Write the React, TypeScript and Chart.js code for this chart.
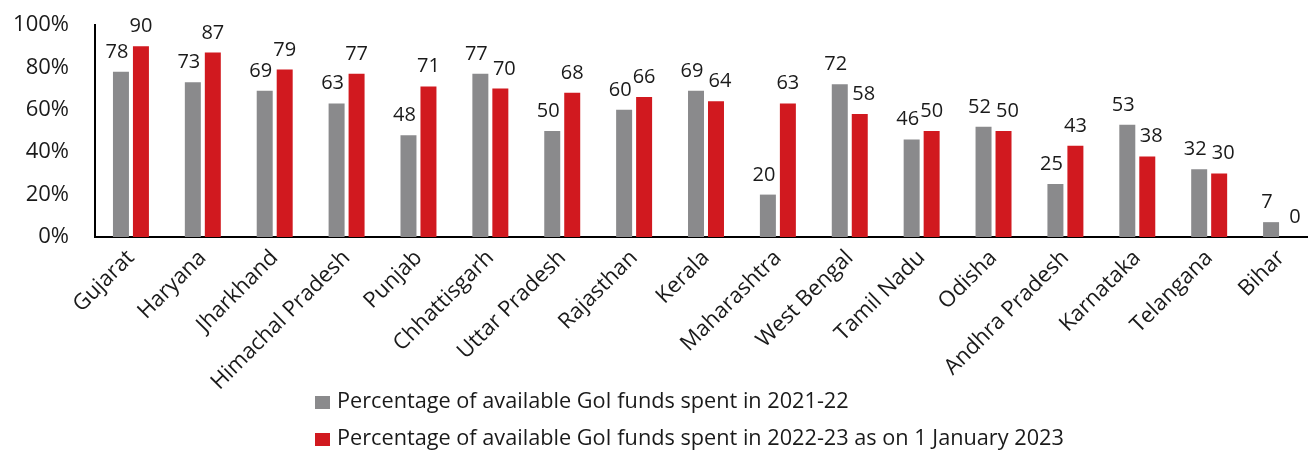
import React, { useEffect, useRef } from "react";
import { Chart, registerables } from "chart.js";

Chart.register(...registerables);

const states = [
  "Gujarat", "Haryana", "Jharkhand", "Himachal Pradesh", "Punjab", "Chhattisgarh",
  "Uttar Pradesh", "Rajasthan", "Kerala", "Maharashtra", "West Bengal", "Tamil Nadu",
  "Odisha", "Andhra Pradesh", "Karnataka", "Telangana", "Bihar",
];
const spent2122 = [78, 73, 69, 63, 48, 77, 50, 60, 69, 20, 72, 46, 52, 25, 53, 32, 7];
const spent2223 = [90, 87, 79, 77, 71, 70, 68, 66, 64, 63, 58, 50, 50, 43, 38, 30, 0];
const yTicks = [0, 20, 40, 60, 80, 100];
const seriesNames = [
  "Percentage of available GoI funds spent in 2021-22",
  "Percentage of available GoI funds spent in 2022-23 as on 1 January 2023",
];

const GREY = "#8a8a8c";
const RED = "#d1191f";
const TEXT = "#1a1a1a";
const FONT = "'Open Sans', sans-serif";

const valueLabels = {
  id: "valueLabels",
  afterDatasetsDraw(chart: any) {
    const ctx = chart.ctx;
    ctx.save();
    ctx.font = `20px ${FONT}`;
    ctx.fillStyle = TEXT;
    ctx.textAlign = "center";
    ctx.textBaseline = "alphabetic";
    chart.data.datasets.forEach((ds: any, di: number) => {
      const meta = chart.getDatasetMeta(di);
      meta.data.forEach((bar: any, i: number) => {
        const v = ds.data[i];
        let dx = 0;
        if (di === 0) dx = -4;
        else if (spent2122[i] > v) dx = 4;
        ctx.fillText(String(v), bar.x + dx, bar.y - 14);
      });
    });
    ctx.restore();
  },
};

const bottomLegend = {
  id: "bottomLegend",
  afterDraw(chart: any) {
    const ctx = chart.ctx;
    ctx.save();
    ctx.font = `21.7px ${FONT}`;
    ctx.textBaseline = "alphabetic";
    ctx.textAlign = "left";
    const rows = [408, 445];
    chart.data.datasets.forEach((ds: any, di: number) => {
      const base = rows[di];
      ctx.fillStyle = ds.backgroundColor;
      ctx.fillRect(315, base - 12, 15, 13);
      ctx.fillStyle = TEXT;
      ctx.fillText(ds.label, 337, base);
    });
    ctx.restore();
  },
};

export default function App() {
  const ref = useRef<HTMLCanvasElement>(null);
  useEffect(() => {
    if (!ref.current) return;
    const chart = new Chart(ref.current, {
      type: "bar",
      data: {
        labels: states,
        datasets: [
          { label: seriesNames[0], data: spent2122, backgroundColor: GREY },
          { label: seriesNames[1], data: spent2223, backgroundColor: RED },
        ],
      },
      options: {
        responsive: false,
        animation: false,
        maintainAspectRatio: false,
        layout: { padding: { top: 25, right: 3, left: 0, bottom: 0 } },
        datasets: { bar: { categoryPercentage: 0.556, barPercentage: 0.8 } },
        plugins: {
          legend: { display: false },
          tooltip: { enabled: false },
        },
        scales: {
          x: {
            grid: { display: false, drawTicks: false },
            border: { display: true, color: "#000", width: 2 },
            ticks: {
              color: TEXT,
              font: { family: FONT, size: 22 },
              minRotation: 45,
              maxRotation: 45,
              padding: 8,
              autoSkip: false,
            },
            afterFit(scale: any) {
              scale.height = 214;
              scale.paddingLeft = 0;
              scale.paddingRight = 0;
            },
          },
          y: {
            min: 0,
            max: 100,
            grid: { display: false, drawTicks: false },
            border: { display: true, color: "#000", width: 2 },
            afterBuildTicks(scale: any) {
              scale.ticks = yTicks.map((v) => ({ value: v }));
            },
            ticks: {
              color: TEXT,
              font: { family: FONT, size: 22 },
              padding: 26,
              callback: (v: any) => `${v}%`,
            },
            afterFit(scale: any) {
              scale.width = 95;
              scale.paddingTop = 0;
              scale.paddingBottom = 0;
            },
          },
        },
      },
      plugins: [valueLabels, bottomLegend],
    });
    return () => chart.destroy();
  }, []);
  return (
    <div style={{ position: "fixed", left: 0, top: 0, width: 1308, height: 451, overflow: "hidden", background: "#fff" }}>
      <canvas ref={ref} width={1320} height={451} style={{ display: "block" }} />
    </div>
  );
}
